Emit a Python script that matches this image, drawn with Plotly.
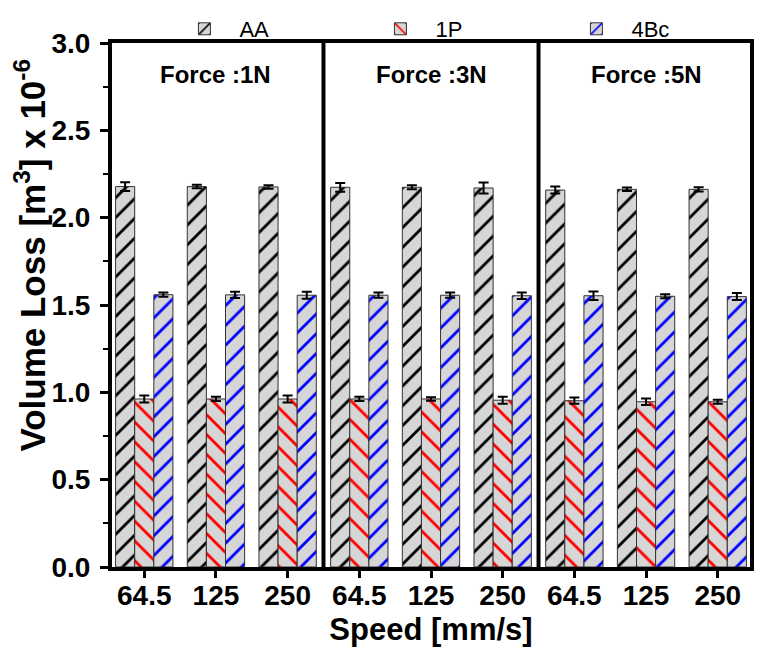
import plotly.graph_objects as go

# speed categories, repeated for each force panel
speeds = ["64.5", "125", "250"]
forces = ["Force :1N", "Force :3N", "Force :5N"]
tick_labels = speeds * 3

aa = [2.178, 2.178, 2.176, 2.174, 2.174, 2.170, 2.158, 2.162, 2.162]
aa_err = [0.025, 0.010, 0.010, 0.025, 0.012, 0.032, 0.020, 0.010, 0.012]
p1 = [0.962, 0.962, 0.962, 0.962, 0.962, 0.955, 0.952, 0.946, 0.946]
p1_err = [0.020, 0.012, 0.020, 0.012, 0.010, 0.020, 0.018, 0.018, 0.012]
bc4 = [1.559, 1.558, 1.556, 1.556, 1.556, 1.553, 1.553, 1.550, 1.548]
bc4_err = [0.012, 0.018, 0.020, 0.015, 0.015, 0.018, 0.025, 0.012, 0.020]

x = list(range(len(tick_labels)))
font = "Liberation Sans, Arial, sans-serif"

series = [
    ("AA", aa, aa_err, "/", "black"),
    ("1P", p1, p1_err, "\\", "red"),
    ("4Bc", bc4, bc4_err, "/", "blue"),
]

fig = go.Figure()
for name, vals, errs, shape, col in series:
    fig.add_trace(go.Bar(
        x=x, y=vals, name=name,
        marker=dict(color="#d6d6d6", line=dict(color="#333333", width=1),
                    pattern=dict(shape=shape, fgcolor=col, bgcolor="#d6d6d6", fgopacity=1,
                                 size=14, solidity=0.2, fillmode="overlay")),
        error_y=dict(type="data", array=errs, color="black", thickness=2, width=5),
    ))

# panel separators
for sep in [2.5, 5.5]:
    fig.add_shape(type="line", x0=sep, x1=sep, y0=0, y1=3, xref="x", yref="y",
                  line=dict(color="black", width=4))

for i, f in enumerate(forces):
    fig.add_annotation(x=3 * i + 1, y=2.82, text="<b>%s</b>" % f, showarrow=False,
                       font=dict(size=24, color="black", family=font))

# y title as a rotated annotation so it can sit a little above centre
fig.add_annotation(xref="paper", yref="paper", x=-0.128, y=0.595, textangle=-90,
                   xanchor="center", yanchor="middle",
                   text="<b>Volume Loss [m<sup>3</sup>] x 10<sup>-6</sup></b>",
                   showarrow=False, font=dict(size=35, color="black", family=font))

fig.update_layout(
    width=762, height=663,
    barmode="group", bargap=0.2, bargroupgap=0,
    plot_bgcolor="white", paper_bgcolor="white",
    margin=dict(l=104, r=20, t=35, b=104, autoexpand=False),
    font=dict(family=font, color="black"),
    legend=dict(orientation="h", x=0.09, xanchor="left", yref="container", y=1.0, yanchor="top",
                font=dict(size=22), bgcolor="rgba(0,0,0,0)",
                entrywidth=121, entrywidthmode="pixels", itemwidth=60, tracegroupgap=0),
    xaxis=dict(range=[-0.45, 8.45], tickmode="array", tickvals=x, ticktext=tick_labels,
               ticks="outside", ticklen=7, tickwidth=3, tickcolor="black",
               showline=True, linecolor="black", linewidth=4, mirror=True,
               showgrid=False, zeroline=False, automargin=False, ticklabelstandoff=-7,
               tickfont=dict(size=28, family=font, weight="bold"),
               title=dict(text="<b>Speed [mm/s]</b>", font=dict(size=31), standoff=10)),
    yaxis=dict(range=[0, 3.0], tick0=0, dtick=0.5, tickformat=".1f",
               ticks="outside", ticklen=8, tickwidth=3, tickcolor="black",
               minor=dict(dtick=0.25, ticks="outside", ticklen=5, tickwidth=2, tickcolor="black"),
               showline=True, linecolor="black", linewidth=4, mirror=True,
               showgrid=False, zeroline=False, automargin=False, ticklabelstandoff=4,
               tickfont=dict(size=28, family=font, weight="bold")),
)

fig.write_html("out.html")
